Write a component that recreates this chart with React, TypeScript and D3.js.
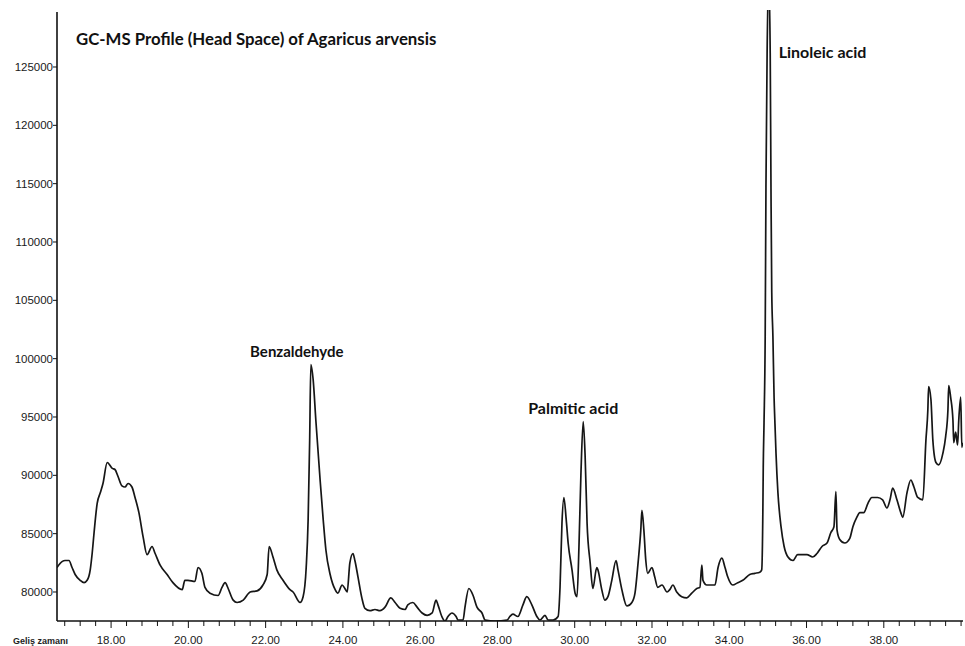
import * as d3 from "d3";
import { useEffect, useRef } from "react";

// retention time (min) and abundance
const times = [
  16.6, 16.73, 16.81, 16.91, 16.99, 17.07, 17.2, 17.3, 17.38, 17.46, 17.51, 17.56, 17.64, 17.72, 17.79, 17.9,
  18.03, 18.1, 18.18, 18.28, 18.36, 18.44, 18.54, 18.62, 18.72, 18.83, 18.93, 19.06, 19.14, 19.27, 19.45, 19.6,
  19.84, 19.91, 19.99, 20.17, 20.25, 20.35, 20.43, 20.56, 20.77, 20.87, 20.95, 21.03, 21.16, 21.26, 21.42, 21.6,
  21.78, 21.93, 22.04, 22.09, 22.19, 22.29, 22.45, 22.63, 22.71, 22.89, 22.97, 23.05, 23.1, 23.14, 23.17, 23.23,
  23.3, 23.41, 23.49, 23.56, 23.67, 23.8, 23.87, 23.98, 24.05, 24.11, 24.18, 24.26, 24.31, 24.39, 24.49, 24.57,
  24.7, 24.83, 24.96, 25.09, 25.24, 25.35, 25.48, 25.61, 25.68, 25.81, 25.92, 26.05, 26.18, 26.31, 26.41, 26.46,
  26.56, 26.64, 26.72, 26.82, 26.93, 26.98, 27.11, 27.16, 27.26, 27.37, 27.47, 27.6, 27.68, 27.94, 28.25, 28.32,
  28.4, 28.53, 28.66, 28.76, 28.89, 29.02, 29.1, 29.23, 29.31, 29.44, 29.57, 29.62, 29.67, 29.72, 29.78, 29.83,
  29.93, 30.01, 30.06, 30.11, 30.16, 30.22, 30.27, 30.32, 30.4, 30.47, 30.57, 30.6, 30.7, 30.78, 30.86, 30.96,
  31.07, 31.12, 31.22, 31.35, 31.48, 31.56, 31.64, 31.71, 31.74, 31.79, 31.84, 31.89, 32.0, 32.07, 32.15, 32.26,
  32.39, 32.46, 32.54, 32.64, 32.77, 32.9, 33.03, 33.16, 33.24, 33.29, 33.32, 33.42, 33.63, 33.71, 33.81, 33.89,
  33.96, 34.09, 34.22, 34.35, 34.53, 34.66, 34.79, 34.84, 34.87, 34.88, 34.9, 34.93, 34.95, 34.98, 35.02, 35.06,
  35.08, 35.1, 35.13, 35.16, 35.18, 35.21, 35.26, 35.34, 35.42, 35.52, 35.65, 35.77, 36.01, 36.16, 36.27, 36.4,
  36.53, 36.63, 36.71, 36.76, 36.79, 36.86, 36.99, 37.12, 37.2, 37.3, 37.38, 37.48, 37.59, 37.69, 37.84, 37.97,
  38.08, 38.16, 38.23, 38.34, 38.44, 38.49, 38.6, 38.7, 38.78, 38.88, 39.01, 39.09, 39.14, 39.16, 39.22, 39.27,
  39.35, 39.42, 39.53, 39.6, 39.66, 39.68, 39.73, 39.79, 39.81, 39.86, 39.91, 39.94, 39.99, 40.02, 40.04,
];

const abundance = [
  82100, 82600, 82700, 82700, 82100, 81500, 81000, 80800, 81000, 81900, 83300, 85100, 87600, 88500, 89300, 91100,
  90600, 90500, 89900, 89100, 89000, 89300, 89000, 88100, 86800, 84700, 83200, 83900, 83300, 82300, 81500, 80800,
  80200, 81000, 81000, 80900, 82100, 81600, 80400, 79900, 79700, 80400, 80800, 80300, 79300, 79100, 79300, 80000,
  80100, 80600, 81500, 83900, 83000, 81900, 81000, 80200, 80000, 79100, 79600, 82100, 86200, 93000, 99500, 98200,
  94700, 89600, 86200, 83600, 81500, 80200, 79900, 80600, 80300, 80000, 82500, 83300, 82700, 81300, 79500, 78600,
  78400, 78500, 78400, 78700, 79500, 79100, 78600, 78500, 78900, 79100, 78700, 78200, 78000, 78200, 79300, 78900,
  77900, 77500, 77900, 78200, 77900, 77600, 77600, 78700, 80300, 79700, 78700, 78200, 77600, 77500, 77600, 77900,
  78100, 77900, 78900, 79600, 78900, 77900, 77600, 78000, 77600, 77600, 77900, 80400, 85900, 88100, 86200, 84200,
  81900, 79900, 79600, 83900, 90000, 94600, 91600, 85900, 82500, 80300, 82100, 81900, 80200, 79300, 79600, 81000,
  82700, 81900, 80200, 78800, 79100, 79900, 82500, 85300, 87000, 85300, 82700, 81600, 82100, 81300, 80400, 80600,
  80000, 80200, 80600, 80000, 79600, 79500, 79900, 80300, 80400, 82300, 81000, 80600, 80600, 82100, 82900, 82100,
  81300, 80600, 80800, 81000, 81500, 81600, 81700, 81900, 87000, 90700, 94500, 101900, 114700, 126200, 133000, 126200,
  114600, 105700, 101900, 96700, 94700, 91900, 88500, 85600, 83900, 83000, 82700, 83200, 83200, 83000, 83300, 83900,
  84200, 85100, 85600, 88600, 85300, 84500, 84200, 84600, 85600, 86400, 86800, 86800, 87600, 88100, 88100, 87900,
  87200, 87900, 88900, 87900, 86800, 86400, 88500, 89600, 89000, 88100, 87900, 93000, 95600, 97600, 96500, 93000,
  91100, 90900, 91900, 93300, 95600, 97700, 96700, 94700, 92800, 93700, 92600, 94700, 96700, 92400, 92800,
];

const yTicks = [80000, 85000, 90000, 95000, 100000, 105000, 110000, 115000, 120000, 125000];
const xLabelTicks = [18, 20, 22, 24, 26, 28, 30, 32, 34, 36, 38];
const xMinorTicks = [
  16.8, 17.2, 17.6, 18, 18.4, 18.8, 19.2, 19.6, 20, 20.4, 20.8, 21.2, 21.6, 22, 22.4, 22.8, 23.2, 23.6, 24,
  24.4, 24.8, 25.2, 25.6, 26, 26.4, 26.8, 27.2, 27.6, 28, 28.4, 28.8, 29.2, 29.6, 30, 30.4, 30.8, 31.2, 31.6,
  32, 32.4, 32.8, 33.2, 33.6, 34, 34.4, 34.8, 35.2, 35.6, 36, 36.4, 36.8, 37.2, 37.6, 38, 38.4, 38.8, 39.2,
  39.6, 40,
];

const peaks = [
  { name: "Benzaldehyde", t: 23.17, v: 99500 },
  { name: "Palmitic acid", t: 30.22, v: 94600 },
  { name: "Linoleic acid", t: 35.02, v: 125800 },
];

const title = "GC-MS Profile (Head Space) of Agaricus arvensis";
const xAxisTitle = "Geliş zamanı";

const W = 965;
const H = 646;
const left = 57;
const right = 963;
const top = 12;
const bottom = 621;

const App = () => {
  const svgRef = useRef(null);

  useEffect(() => {
    document.body.style.margin = "0";
    const svg = d3.select(svgRef.current);
    svg.selectAll("*").remove();

    const x = d3.scaleLinear().domain([16.6, 40.05]).range([left, right]);
    const y = d3.scaleLinear().domain([77514, 129714]).range([bottom, top]);

    svg.append("defs").append("clipPath").attr("id", "plot-clip")
      .append("rect").attr("x", left).attr("y", top - 2).attr("width", right - left).attr("height", bottom - top + 2);

    const pts = times.map((t, i) => [t, abundance[i]]);
    const line = d3.line().curve(d3.curveMonotoneX).x(d => x(d[0])).y(d => y(d[1]));

    svg.append("path")
      .datum(pts)
      .attr("clip-path", "url(#plot-clip)")
      .attr("fill", "none")
      .attr("stroke", "#161616")
      .attr("stroke-width", 1.7)
      .attr("stroke-linejoin", "round")
      .attr("d", line);

    // axes
    svg.append("line").attr("x1", left).attr("x2", left).attr("y1", top).attr("y2", bottom)
      .attr("stroke", "#111").attr("stroke-width", 1.6);
    svg.append("line").attr("x1", left).attr("x2", right).attr("y1", bottom).attr("y2", bottom)
      .attr("stroke", "#111").attr("stroke-width", 1.6);

    const yg = svg.append("g");
    yTicks.forEach(v => {
      yg.append("line").attr("x1", left - 4).attr("x2", left).attr("y1", y(v)).attr("y2", y(v))
        .attr("stroke", "#111").attr("stroke-width", 1);
      yg.append("text").attr("x", left - 4).attr("y", y(v) + 4)
        .attr("text-anchor", "end")
        .attr("font-family", "'Liberation Sans Narrow', 'Liberation Sans', Arial, sans-serif")
        .attr("font-size", 11.5)
        .attr("fill", "#1a1a1a")
        .text(v);
    });

    const xg = svg.append("g");
    xMinorTicks.forEach(t => {
      const major = xLabelTicks.includes(t);
      xg.append("line").attr("x1", x(t)).attr("x2", x(t)).attr("y1", bottom).attr("y2", bottom + (major ? 7 : 5))
        .attr("stroke", "#111").attr("stroke-width", 1);
    });
    xLabelTicks.forEach(t => {
      xg.append("text").attr("x", x(t)).attr("y", 644)
        .attr("text-anchor", "middle")
        .attr("font-family", "'Liberation Sans Narrow', 'Liberation Sans', Arial, sans-serif")
        .attr("font-size", 11.5)
        .attr("fill", "#1a1a1a")
        .text(t.toFixed(2));
    });

    svg.append("text").attr("x", 13).attr("y", 644)
      .attr("font-family", "'Liberation Sans', Arial, sans-serif")
      .attr("font-weight", "bold")
      .attr("font-size", 9)
      .attr("fill", "#222")
      .text(xAxisTitle);

    svg.append("text").attr("x", 76).attr("y", 45)
      .attr("font-family", "Lato, sans-serif")
      .attr("font-weight", "bold")
      .attr("font-size", 16.8)
      .attr("fill", "#111")
      .text(title);

    // peak labels
    const lab = svg.append("g")
      .attr("font-family", "Lato, sans-serif")
      .attr("font-weight", "bold")
      .attr("font-size", 16)
      .attr("fill", "#111");
    lab.append("text").attr("x", x(peaks[0].t) - 14).attr("y", y(peaks[0].v) - 7)
      .attr("font-size", 15)
      .attr("text-anchor", "middle").text(peaks[0].name);
    lab.append("text").attr("x", x(peaks[1].t) - 10).attr("y", y(peaks[1].v) - 8)
      .attr("text-anchor", "middle").text(peaks[1].name);
    lab.append("text").attr("x", x(peaks[2].t) + 10).attr("y", y(peaks[2].v))
      .attr("text-anchor", "start").text(peaks[2].name);
  }, []);

  return (
    <div><svg ref={svgRef} width={W} height={H} /></div>
  );
};

export default App;
